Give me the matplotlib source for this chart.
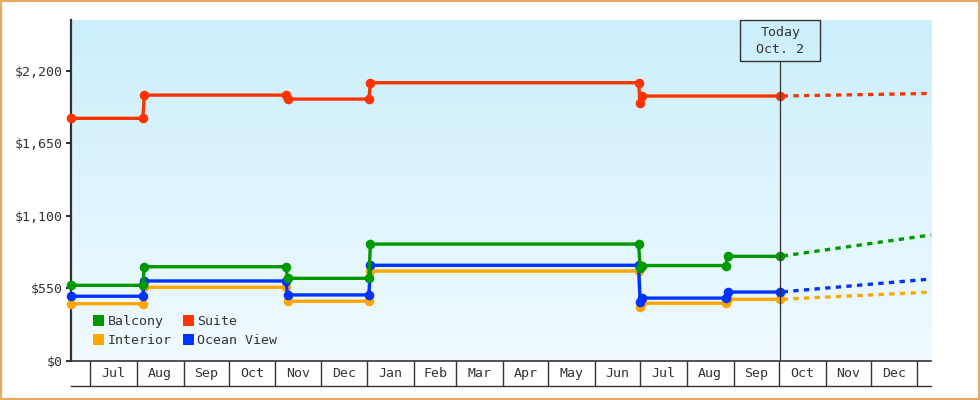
import datetime as dt
import numpy as np
import matplotlib
matplotlib.use("Agg")
import matplotlib.pyplot as plt
import matplotlib.dates as mdates
from matplotlib.patches import Patch, Rectangle
from matplotlib.transforms import Affine2D, ScaledTranslation

plt.rcParams['font.family'] = ['DejaVu Sans Mono']

D = dt.date

# price history: dates at which a fare changed (two points per change)
dates = [D(2013, 6, 18), D(2013, 8, 5), D(2013, 8, 6), D(2013, 11, 8), D(2013, 11, 9),
         D(2014, 1, 2), D(2014, 1, 3), D(2014, 6, 30), D(2014, 7, 1), D(2014, 7, 2),
         D(2014, 8, 27), D(2014, 8, 28), D(2014, 10, 2)]

balcony = [572, 572, 713, 713, 625, 625, 885, 885, 701, 722, 722, 792, 792]
interior = [432, 432, 557, 557, 451, 451, 680, 680, 411, 436, 436, 466, 466]
ocean_view = [489, 489, 605, 605, 499, 499, 724, 724, 449, 475, 475, 521, 521]
# suite has no change at the end of August
suite_dates = dates[:10] + [dates[-1]]
suite = [1839, 1839, 2015, 2015, 1985, 1985, 2109, 2109, 1953, 2008, 2008]

# projected prices at the end of the visible range
today = D(2014, 10, 2)
forecast_end = D(2015, 1, 10)
forecast = {"Balcony": 954, "Suite": 2028, "Interior": 521, "Ocean View": 620}

x_start = D(2013, 6, 18)
month_starts = [D(2013 + (6 + i) // 12, (6 + i) % 12 + 1, 1) for i in range(19)]
month_labels = ["Jul", "Aug", "Sep", "Oct", "Nov", "Dec", "Jan", "Feb", "Mar",
                "Apr", "May", "Jun", "Jul", "Aug", "Sep", "Oct", "Nov", "Dec"]

y_ticks = [0, 550, 1100, 1650, 2200]
y_tick_labels = ["$0", "$550", "$1,100", "$1,650", "$2,200"]
y_max = 2585

colors = {"Balcony": "#009900", "Suite": "#ff3300",
          "Interior": "#ffa500", "Ocean View": "#0033ff"}
ink = "#333333"
fs = 9.5

W, H = 980, 400
fig = plt.figure(figsize=(W / 100, H / 100), dpi=100, facecolor="white")
ax_l, ax_r, ax_t, ax_b = 70.5, 931, 20, 360.7
ax = fig.add_axes([ax_l / W, (H - ax_b) / H, (ax_r - ax_l) / W, (ax_b - ax_t) / H])
ax_h_px = ax_b - ax_t

# vertical gradient background
grad = np.linspace(0, 1, 256).reshape(-1, 1)
top_c = np.array([0xcb, 0xef, 0xfc]) / 255
bot_c = np.array([0xf0, 0xfa, 0xff]) / 255
img = top_c[None, None, :] * (1 - grad[:, :, None]) + bot_c[None, None, :] * grad[:, :, None]
ax.imshow(img, extent=(0, 1, 0, 1), transform=ax.transAxes, aspect="auto", zorder=0)

series = [("Interior", dates, interior), ("Ocean View", dates, ocean_view),
          ("Balcony", dates, balcony), ("Suite", suite_dates, suite)]
for name, xs, ys in series:
    c = colors[name]
    ax.plot(xs, ys, color=c, lw=2.4, marker="o", ms=5.9, mec=c, mfc=c,
            zorder=3, clip_on=False, solid_joinstyle="miter")
    ax.plot([today, forecast_end], [ys[-1], forecast[name]], color=c, lw=2.4,
            linestyle=(2.5, (1.6, 1.6)), zorder=2, clip_on=False)

ax.set_xlim(x_start, forecast_end)
ax.set_ylim(0, y_max)

# today marker: vertical rule and labelled box
box_w, box_h = 80, 40.7
ax.axvline(today, ymin=0, ymax=1 - box_h / ax_h_px, color=ink, lw=0.9, zorder=4)
box_tr = (Affine2D().scale(box_w, box_h).translate(-box_w / 2, -box_h)
          + ScaledTranslation(mdates.date2num(today), 1.0, ax.get_xaxis_transform()))
ax.add_patch(Rectangle((0, 0), 1, 1, transform=box_tr, fill=False, ec=ink, lw=1.0,
                       zorder=5, clip_on=False))
ax.annotate("Today\nOct. 2", xy=(mdates.date2num(today), 1.0),
            xycoords=("data", "axes fraction"), xytext=(0, -box_h / 2 - 0.6),
            textcoords="offset pixels", ha="center", va="center",
            fontsize=fs, color=ink, linespacing=1.35, zorder=6)

# axes styling
for s in ("top", "right"):
    ax.spines[s].set_visible(False)
ax.spines["left"].set_color(ink)
ax.spines["left"].set_linewidth(1.6)
ax.spines["bottom"].set_color(ink)
ax.spines["bottom"].set_linewidth(1.2)
ax.set_yticks(y_ticks)
ax.set_yticklabels(y_tick_labels)
ax.tick_params(axis="y", length=3.6, width=1.5, color=ink, labelcolor=ink,
               labelsize=fs, pad=2)
ax.set_xticks([])

# month strip under the axis
strip = 25 / ax_h_px
xtr = ax.get_xaxis_transform()
ax.vlines(month_starts, -strip, 0, transform=xtr, color=ink, lw=1.0, clip_on=False)
ax.plot([0, 1], [-strip, -strip], transform=ax.transAxes, color=ink, lw=1.0,
        clip_on=False)
for i, lab in enumerate(month_labels):
    a = mdates.date2num(month_starts[i])
    b = mdates.date2num(month_starts[i + 1])
    ax.text((a + b) / 2, -strip / 2, lab, transform=xtr, ha="center", va="center",
            fontsize=fs, color=ink)

# legend
order = ["Balcony", "Interior", "Suite", "Ocean View"]
handles = [Patch(facecolor=colors[n], edgecolor="none", label=n) for n in order]
ax.legend(handles=handles, ncol=2, loc="lower left",
          bbox_to_anchor=((93 - ax_l) / (ax_r - ax_l), 13.5 / ax_h_px),
          frameon=False, fontsize=fs, handlelength=0.85, handleheight=0.85,
          handletextpad=0.25, columnspacing=0.85, labelspacing=0.45,
          borderpad=0, borderaxespad=0, labelcolor=ink)

# outer frame
fig.patches.append(Rectangle((0.001, 0.0025), 0.998, 0.995, transform=fig.transFigure,
                             fill=False, ec="#e9a962", lw=1.6))

fig.savefig("out.png", dpi=100, facecolor="white")
